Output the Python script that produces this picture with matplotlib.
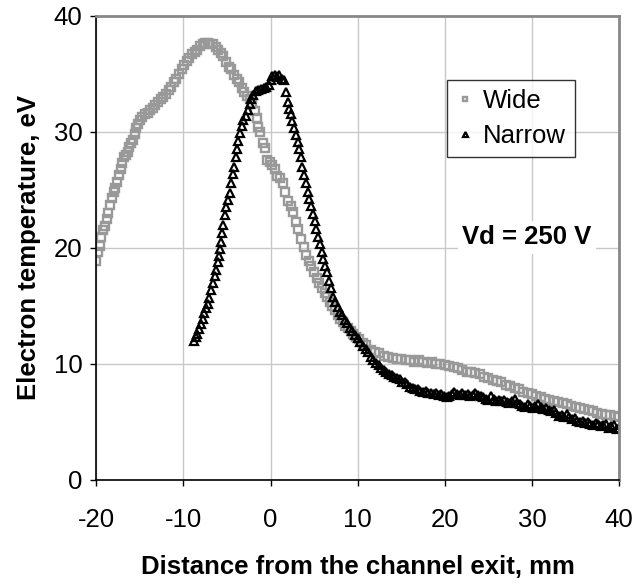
import matplotlib
matplotlib.use("Agg")
import matplotlib.pyplot as plt

plt.rcParams['font.family'] = ['Liberation Sans', 'DejaVu Sans']
plt.rcParams['axes.unicode_minus'] = False

# Wide channel: distance (mm) vs electron temperature (eV)
wide_x = [-20.0, -19.8, -19.6, -19.4, -19.2, -19.0, -18.8, -18.6, -18.4, -18.2,
          -18.0, -17.8, -17.6, -17.4, -17.2, -17.0, -16.8, -16.6, -16.4, -16.2,
          -16.0, -15.8, -15.6, -15.4, -15.2, -15.0, -14.7, -14.4, -14.1, -13.8,
          -13.5, -13.2, -12.9, -12.6, -12.3, -12.0, -11.7, -11.4, -11.1, -10.8,
          -10.5, -10.2, -9.9, -9.6, -9.3, -9.0, -8.7, -8.4, -8.1, -7.8,
          -7.5, -7.2, -6.9, -6.6, -6.3, -6.0, -5.7, -5.4, -5.1, -4.8,
          -4.5, -4.2, -3.9, -3.6, -3.3, -3.0, -2.7, -2.4, -2.1, -1.8,
          -1.6, -1.4, -1.2, -0.9, -0.6, -0.4, -0.1, 0.2, 0.5, 0.8,
          1.1, 1.4, 1.7, 2.0, 2.3, 2.6, 2.9, 3.2, 3.5, 3.8,
          4.1, 4.4, 4.7, 5.0, 5.3, 5.6, 5.9, 6.2, 6.5, 6.8,
          7.1, 7.4, 7.7, 8.0, 8.3, 8.6, 8.9, 9.2, 9.5, 9.8,
          10.2, 10.6, 11.0, 11.5, 12.0, 12.5, 13.0, 13.5, 14.0, 14.5,
          15.0, 15.5, 16.0, 16.5, 17.0, 17.5, 18.0, 18.5, 19.0, 19.5,
          20.0, 20.5, 21.0, 21.5, 22.0, 22.5, 23.0, 23.5, 24.0, 24.5,
          25.0, 25.5, 26.0, 26.5, 27.0, 27.5, 28.0, 28.5, 29.0, 29.5,
          30.0, 30.5, 31.0, 31.5, 32.0, 32.5, 33.0, 33.5, 34.0, 34.5,
          35.0, 35.5, 36.0, 36.5, 37.0, 37.5, 38.0, 38.5, 39.0, 39.5, 40.0]
wide_y = [18.9, 19.6, 20.2, 20.9, 21.5, 21.9, 22.5, 23.0, 23.7, 24.3,
          24.8, 25.2, 25.7, 26.3, 26.8, 27.3, 27.8, 28.0, 28.3, 28.7,
          29.0, 29.3, 29.8, 30.3, 30.7, 31.0, 31.3, 31.5, 31.6, 31.9,
          32.1, 32.3, 32.6, 32.8, 33.0, 33.3, 33.6, 33.9, 34.3, 34.6,
          35.0, 35.4, 35.8, 36.1, 36.4, 36.7, 36.9, 37.1, 37.4, 37.6,
          37.7, 37.7, 37.6, 37.6, 37.3, 37.1, 36.8, 36.5, 36.0, 35.6,
          35.4, 34.9, 34.6, 34.3, 33.8, 33.4, 33.1, 32.8, 32.5, 31.8,
          31.2, 30.4, 30.0, 29.0, 28.6, 27.6, 27.4, 27.1, 26.8, 26.2,
          26.0, 25.6, 24.8, 24.0, 23.6, 23.1, 22.2, 21.6, 20.8, 20.1,
          19.4, 18.9, 18.4, 17.9, 17.4, 17.0, 16.5, 16.1, 15.8, 15.3,
          15.0, 14.6, 14.2, 13.9, 13.6, 13.3, 13.1, 12.8, 12.6, 12.3,
          12.1, 11.8, 11.6, 11.2, 11.0, 10.9, 10.7, 10.6, 10.5, 10.4,
          10.4, 10.3, 10.3, 10.2, 10.3, 10.2, 10.1, 10.2, 10.0, 10.0,
          9.9, 9.8, 9.7, 9.6, 9.5, 9.3, 9.3, 9.2, 9.1, 8.9,
          8.8, 8.6, 8.5, 8.4, 8.2, 8.1, 7.9, 7.8, 7.6, 7.5,
          7.4, 7.2, 7.1, 7.0, 6.9, 6.8, 6.7, 6.6, 6.5, 6.4,
          6.3, 6.2, 6.1, 6.0, 5.9, 5.8, 5.7, 5.6, 5.6, 5.5, 5.4]

# Narrow channel
narrow_x = [-8.8, -8.6, -8.4, -8.2, -8.0, -7.8, -7.6, -7.4, -7.2, -7.0,
            -6.8, -6.6, -6.4, -6.2, -6.0, -5.9, -5.8, -5.7, -5.55, -5.4,
            -5.2, -5.05, -4.9, -4.7, -4.55, -4.35, -4.2, -4.0, -3.85, -3.7,
            -3.5, -3.3, -3.1, -2.8, -2.6, -2.4, -2.2, -2.0, -1.7, -1.4,
            -1.1, -0.8, -0.5, -0.2, 0.0, 0.2, 0.5, 0.8, 1.0, 1.3,
            1.6, 1.8, 1.95, 2.1, 2.3, 2.5, 2.7, 2.9, 3.1, 3.3,
            3.5, 3.65, 3.85, 4.05, 4.25, 4.45, 4.65, 4.85, 5.05, 5.25,
            5.45, 5.65, 5.85, 6.05, 6.25, 6.45, 6.7, 6.95, 7.2, 7.45,
            7.7, 7.95, 8.2, 8.5, 8.8, 9.1, 9.4, 9.7, 10.0, 10.3,
            10.6, 10.9, 11.2, 11.5, 11.8, 12.1, 12.4, 12.7, 13.0, 13.3,
            13.6, 13.9, 14.2, 14.5, 14.8, 15.1, 15.4, 15.7, 16.0, 16.3,
            16.6, 16.9, 17.2, 17.5, 17.8, 18.1, 18.4, 18.7, 19.0, 19.3,
            19.6, 19.9, 20.2, 20.5, 20.8, 21.1, 21.4, 21.7, 22.0, 22.3,
            22.6, 22.9, 23.2, 23.5, 23.8, 24.1, 24.4, 24.7, 25.0, 25.3,
            25.6, 25.9, 26.2, 26.5, 26.8, 27.1, 27.4, 27.7, 28.0, 28.3,
            28.6, 28.9, 29.2, 29.5, 29.8, 30.1, 30.4, 30.7, 31.0, 31.3,
            31.6, 31.9, 32.2, 32.5, 32.8, 33.1, 33.4, 33.7, 34.0, 34.3,
            34.6, 34.9, 35.2, 35.5, 35.8, 36.1, 36.4, 36.7, 37.0, 37.3,
            37.6, 37.9, 38.2, 38.5, 38.8, 39.1, 39.4, 39.7, 40.0]
narrow_y = [12.0, 12.3, 12.6, 13.0, 13.4, 13.9, 14.4, 14.8, 15.2, 15.7,
            16.4, 17.0, 17.6, 18.1, 18.8, 19.3, 19.9, 20.5, 21.3, 22.0,
            22.8, 23.5, 24.1, 24.7, 25.6, 26.4, 27.0, 27.8, 28.5, 29.2,
            29.9, 30.5, 31.0, 31.4, 31.9, 32.4, 32.8, 33.2, 33.5, 33.6,
            33.7, 33.8, 33.9, 34.0, 34.5, 34.8, 34.9, 34.7, 34.9, 34.6,
            34.5, 33.4, 32.6, 32.0, 31.5, 30.9, 30.3, 29.7, 29.1, 28.5,
            27.8, 27.0, 26.3, 25.6, 24.8, 24.2, 23.6, 22.9, 22.3, 21.6,
            20.9, 20.3, 19.6, 19.0, 18.4, 17.9, 17.1, 16.5, 15.8, 15.3,
            14.9, 14.5, 14.2, 13.8, 13.5, 13.1, 12.8, 12.5, 12.2, 11.9,
            11.5, 11.3, 11.0, 10.6, 10.3, 10.1, 9.9, 9.6, 9.5, 9.3,
            9.1, 9.0, 8.9, 8.8, 8.7, 8.4, 8.4, 8.3, 8.0, 7.9,
            7.8, 7.8, 7.7, 7.6, 7.7, 7.5, 7.5, 7.4, 7.5, 7.3,
            7.4, 7.2, 7.1, 7.2, 7.4, 7.6, 7.4, 7.3, 7.5, 7.3,
            7.4, 7.2, 7.3, 7.5, 7.3, 7.2, 7.1, 7.0, 6.9, 7.2,
            7.0, 6.8, 6.9, 6.8, 6.9, 6.7, 6.6, 6.8, 7.0, 6.6,
            6.5, 6.4, 6.3, 6.5, 6.4, 6.2, 6.4, 6.5, 6.3, 6.1,
            6.2, 6.0, 5.9, 6.0, 5.8, 5.5, 5.6, 5.4, 5.7, 5.4,
            5.2, 5.3, 5.1, 5.0, 5.1, 4.9, 5.0, 4.8, 4.7, 4.9,
            4.8, 4.6, 4.7, 4.8, 4.5, 4.6, 4.7, 4.4, 4.5]

x_ticks = [-20, -10, 0, 10, 20, 30, 40]
y_ticks = [0, 10, 20, 30, 40]

fs = 18.5
fig = plt.figure(figsize=(6.37, 5.88), dpi=100)
ax = fig.add_axes([0.151, 0.184, 0.821, 0.789])

ax.plot(wide_x, wide_y, linestyle='none', marker='s', markersize=5.5,
        markerfacecolor='none', markeredgecolor='#999999', markeredgewidth=1.7,
        label='Wide')
ax.plot(narrow_x, narrow_y, linestyle='none', marker='^', markersize=6,
        markerfacecolor='none', markeredgecolor='black', markeredgewidth=1.6,
        label='Narrow')

ax.set_xlim(-20, 40)
ax.set_ylim(0, 40)
ax.set_xticks(x_ticks)
ax.set_yticks(y_ticks)
ax.grid(True, color='#c8c8c8', linewidth=1)
ax.set_axisbelow(True)

for side in ['left', 'bottom']:
    ax.spines[side].set_color('black')
    ax.spines[side].set_linewidth(1.2)
for side in ['top', 'right']:
    ax.spines[side].set_color('#888888')
    ax.spines[side].set_linewidth(2)

ax.tick_params(direction='out', length=4, width=1, labelsize=fs)
ax.tick_params(axis='x', pad=16)
ax.tick_params(axis='y', pad=6)

ax.set_xlabel('Distance from the channel exit, mm', fontsize=fs,
              fontweight='bold', labelpad=17)
ax.set_ylabel('Electron temperature, eV', fontsize=fs, fontweight='bold',
              labelpad=9)

leg = ax.legend(loc='upper left', bbox_to_anchor=(0.671, 0.862), fontsize=fs,
                frameon=True, fancybox=False, markerscale=0.6,
                handlelength=0.7, handletextpad=0.35, borderpad=0.35,
                labelspacing=0.45, borderaxespad=0)
leg.get_frame().set_edgecolor('black')
leg.get_frame().set_linewidth(1)

ax.text(29.4, 20.9, 'Vd = 250 V', fontsize=fs, fontweight='bold',
        ha='center', va='center',
        bbox=dict(facecolor='white', edgecolor='none', pad=3))

fig.savefig('out.png', dpi=100)
